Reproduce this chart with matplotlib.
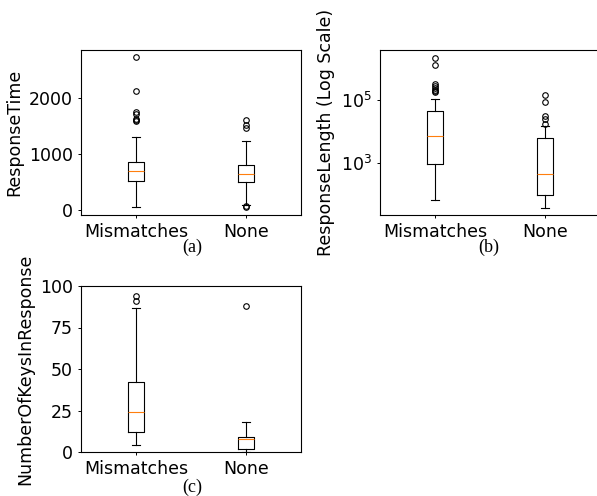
import matplotlib
matplotlib.use("Agg")
import matplotlib.pyplot as plt

labels = ["Mismatches", "None"]

# (a) ResponseTime
time_whislo = [41, 89]
time_q1 = [520, 503]
time_med = [698, 634]
time_q3 = [858, 805]
time_whishi = [1302, 1231]
time_fliers = [[1580, 1598, 1628, 1710, 1746, 2131, 2723],
               [40, 60, 1462, 1510, 1610]]

# (b) ResponseLength, log scale
len_whislo = [68, 40]
len_q1 = [977, 98]
len_med = [7670, 471]
len_q3 = [46800, 6450]
len_whishi = [107000, 15100]
len_fliers = [[178000, 200000, 214000, 240000, 275000, 337000, 1340000, 2280000],
              [17400, 26300, 31300, 88300, 151000]]

# (c) NumberOfKeysInResponse
keys_whislo = [4, 0]
keys_q1 = [12, 2]
keys_med = [24, 8]
keys_q3 = [42, 9]
keys_whishi = [87, 18]
keys_fliers = [[91, 94], [88]]

W, H = 597, 496
fig = plt.figure(figsize=(W / 100, H / 100), dpi=100)

def px_axes(x0, y0, x1, y1):
    return fig.add_axes([x0 / W, 1 - y1 / H, (x1 - x0) / W, (y1 - y0) / H])

def make_stats(lo, q1, med, q3, hi, fl):
    return [dict(label=labels[i], whislo=lo[i], q1=q1[i], med=med[i],
                 q3=q3[i], whishi=hi[i], fliers=fl[i]) for i in range(2)]

def draw(ax, stats):
    lw = 0.8
    ax.bxp(stats, widths=0.15,
           boxprops=dict(linewidth=lw),
           whiskerprops=dict(linewidth=lw),
           capprops=dict(linewidth=lw),
           medianprops=dict(color="#ff7f0e", linewidth=lw),
           flierprops=dict(marker="o", markersize=4, markerfacecolor="none",
                           markeredgewidth=lw))
    ax.set_xlim(0.5, 2.5)
    ax.tick_params(labelsize=12.5, length=2.5, width=0.7)
    for s in ax.spines.values():
        s.set_linewidth(0.8)

ax1 = px_axes(81, 50, 301, 215)
draw(ax1, make_stats(time_whislo, time_q1, time_med, time_q3, time_whishi, time_fliers))
ax1.set_ylabel("ResponseTime", fontsize=12.5)

ax2 = px_axes(380, 50, 600, 215)
draw(ax2, make_stats(len_whislo, len_q1, len_med, len_q3, len_whishi, len_fliers))
ax2.set_yscale("log")
ax2.set_yticks([1e3, 1e5])
ax2.minorticks_off()
ax2.set_ylabel("ResponseLength (Log Scale)", fontsize=12.5)

ax3 = px_axes(81, 286, 301, 452)
draw(ax3, make_stats(keys_whislo, keys_q1, keys_med, keys_q3, keys_whishi, keys_fliers))
ax3.set_ylim(0, 100)
ax3.set_yticks([0, 25, 50, 75, 100])
ax3.set_ylabel("NumberOfKeysInResponse", fontsize=12.5)

cap = dict(fontsize=13, family="Liberation Serif", ha="center", va="center")
fig.text(192 / W, 1 - 247 / H, "(a)", **cap)
fig.text(489 / W, 1 - 247 / H, "(b)", **cap)
fig.text(192 / W, 1 - 487 / H, "(c)", **cap)

fig.savefig("out.png", dpi=100)
